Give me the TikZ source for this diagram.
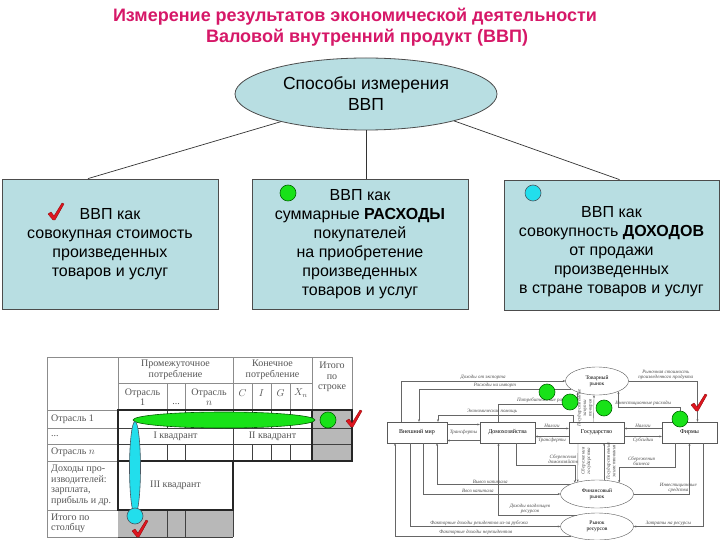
\documentclass[tikz,border=0pt]{standalone}
\usepackage{fontspec}
\setmainfont{Liberation Sans}
\newfontfamily\tabfont{Liberation Serif}
\usetikzlibrary{calc,shapes.geometric,arrows.meta}
\definecolor{titlered}{RGB}{214,24,104}
\definecolor{boxfill}{RGB}{184,222,226}
\definecolor{tickred}{RGB}{222,22,32}
\definecolor{dotgreen}{RGB}{24,226,24}
\definecolor{dotcyan}{RGB}{34,222,236}
\definecolor{tabgray}{RGB}{85,85,85}
\def\redtick(#1){\fill[tickred,draw=red!55!black,line width=0.3pt] ($(#1)+(-7,0)$) -- ++(3,-2) -- ++(3,4) -- ++(8,-13) -- ++(2,1) -- ++(-9,16) -- ++(-2,0) -- cycle;}
\tikzset{
  title/.style={font=\bfseries\fontsize{18}{21}\selectfont, text=titlered},
  method/.style={draw=black!70, line width=0.8pt, fill=boxfill, align=center, font=\fontsize{16}{19}\selectfont},
  link/.style={draw=black!80, line width=0.7pt},
  dot/.style={circle, minimum size=16, inner sep=0pt, line width=0.6pt},
  thinrule/.style={draw=black!45, line width=0.4pt},
  midrule/.style={draw=black!75, line width=0.6pt},
  thickrule/.style={draw=black!85, line width=1.4pt},
  tabtext/.style={font=\tabfont\fontsize{10}{10.5}\selectfont, text=tabgray, align=center, inner sep=1pt},
  fbox/.style={draw=black!65, line width=0.4pt, fill=white, minimum height=21, font=\tabfont\fontsize{6}{7}\selectfont},
  market/.style={ellipse, draw=black!65, line width=0.4pt, fill=white, inner sep=0pt, align=center, font=\tabfont\fontsize{5.5}{6}\selectfont},
  flow/.style={draw=black!60, line width=0.35pt, -{Stealth[length=2.5pt,width=2pt]}},
  flbl/.style={font=\tabfont\itshape\fontsize{5}{5.5}\selectfont, text=black!70, inner sep=1pt, align=center}
}
\begin{document}
\begin{tikzpicture}[x=1pt,y=-1pt]
			\useasboundingbox[fill=white] (0,0) rectangle (720,540);
			
			% title
			\node[title] (title1) at (355,17) {Измерение результатов экономической деятельности};
			\node[title] (title2) at (367,38) {Валовой внутренний продукт (ВВП)};
			
			% methods
			\node[ellipse, draw=black!70, line width=0.8pt, fill=boxfill, minimum width=262, minimum height=72, align=center, font=\fontsize{17.5}{21}\selectfont] (ways) at (366,94) {Способы измерения\\ВВП};
			\node[method, minimum width=216, minimum height=130] (sumval) at (110,244) {ВВП как\\совокупная стоимость\\произведенных\\товаров и услуг};
			\node[method, minimum width=216, minimum height=130] (spend) at (360,244) {ВВП как\\суммарные \textbf{РАСХОДЫ}\\покупателей\\на приобретение\\произведенных\\товаров и услуг};
			\node[method, minimum width=215, minimum height=130] (income) at (611.5,245) {\rule{0pt}{24pt}ВВП как\\совокупность \textbf{ДОХОДОВ}\\от продажи\\произведенных\\в стране товаров и услуг};
			\draw[link] (ways.198) -- ([xshift=-22]sumval.north);
			\draw[link] (ways.south) -- (ways.south |- spend.north);
			\draw[link] (ways.343) -- ([xshift=8]income.north);
			\redtick(55,214)
			\node[dot, draw=green!40!black, fill=dotgreen] (spenddot) at (288,193) {};
			\node[dot, draw=cyan!30!black, fill=dotcyan] (incomedot) at (533,193) {};
			
			% input-output table
			\fill[black!28] (312,410) rectangle (352,461);
			\fill[black!28] (118,510) rectangle (233,537);
			\draw[thinrule] (47,357) -- (352,357) -- (352,410);
			\draw[thinrule] (47,357) -- (47,537) -- (118,537);
			\draw[thinrule] (118,357) -- (118,410) (233,357) -- (233,410) (312,357) -- (312,410);
			\draw[thinrule] (118,383) -- (312,383);
			\foreach \x in {167,185,252,271,290} \draw[thinrule] (\x,383) -- (\x,410);
			\foreach \y in {410,428,444,461,510} \draw[thinrule] (47,\y) -- (118,\y);
			\foreach \x in {167,185,233,252,271,290} \draw[midrule] (\x,410) -- (\x,428) (\x,444) -- (\x,461);
			\draw[midrule] (233,428) -- (233,444);
			\draw[midrule] (118,428) -- (352,428) (118,444) -- (352,444);
			\draw[midrule] (167,510) -- (167,537) (185,510) -- (185,537) (233,510) -- (233,537) (118,537) -- (233,537);
			\draw[thickrule] (118,410) rectangle (352,461);
			\draw[thickrule] (312,410) -- (312,461);
			\draw[thickrule] (118,461) rectangle (233,510);
			\node[tabtext] (hdrInter) at (175.5,370) {Промежуточное\\потребление};
			\node[tabtext] (hdrFinal) at (272.5,370) {Конечное\\потребление};
			\node[tabtext] (hdrTotal) at (332,377) {Итого\\по\\строке};
			\node[tabtext] (hdrBr1) at (142.5,397) {Отрасль\\1};
			\node[tabtext] (hdrDots) at (176,404) {...};
			\node[tabtext] (hdrBrN) at (209,397) {Отрасль\\$n$};
			\node[tabtext] (hdrC) at (242.5,393) {$C$};
			\node[tabtext] (hdrI) at (261.5,393) {$I$};
			\node[tabtext] (hdrG) at (280.5,393) {$G$};
			\node[tabtext] (hdrX) at (301,393) {$X_n$};
			\node[tabtext, anchor=west] (rowBr1) at (50,419) {Отрасль 1};
			\node[tabtext, anchor=west] (rowDots) at (50,436) {...};
			\node[tabtext, anchor=west] (rowBrN) at (50,452.5) {Отрасль $n$};
			\node[tabtext, anchor=west, align=left] (rowInc) at (50,485.5) {Доходы про-\\изводителей:\\зарплата,\\прибыль и др.};
			\node[tabtext, anchor=west, align=left] (rowTot) at (50,523.5) {Итого по\\столбцу};
			\node[tabtext] (quadI) at (175.5,436) {I квадрант};
			\node[tabtext] (quadII) at (272.5,436) {II квадрант};
			\node[tabtext] (quadIII) at (175.5,485.5) {III квадрант};
			\node[ellipse, draw=green!35!black, line width=0.6pt, fill=dotgreen, minimum width=182, minimum height=16, inner sep=0pt] (rowoval) at (224,420) {};
			\node[ellipse, draw=cyan!30!black, line width=0.6pt, fill=dotcyan, minimum width=11, minimum height=93, inner sep=0pt] (coloval) at (135,468) {};
			\node[dot, draw=green!40!black, fill=dotgreen] (rowdot) at (328,420) {};
			\node[dot, draw=cyan!30!black, fill=dotcyan] (coldot) at (135,516) {};
			\redtick(353,421)
			\redtick(139,531)
			
			% circular flow
			\node[fbox, minimum width=60] (world) at (417,432.5) {Внешний мир};
			\node[fbox, minimum width=55] (house) at (507.5,432.5) {Домохозяйства};
			\node[fbox, minimum width=55] (gov) at (596.5,432.5) {Государство};
			\node[fbox, minimum width=55] (firms) at (689.5,432.5) {Фирмы};
			\node[market, minimum width=63, minimum height=28] (goods) at (597,381) {Товарный\\рынок};
			\node[market, minimum width=73, minimum height=28] (finmkt) at (597,494) {Финансовый\\рынок};
			\node[market, minimum width=73, minimum height=27] (resmkt) at (597,526.5) {Рынок\\ресурсов};
			
			\draw[flow] ([xshift=-16]world.north) |- (goods.west) node[flbl, pos=0.75, above] (lExport) {Доходы от экспорта};
			\draw[flow] (goods.197) -| ([xshift=2]world.north) node[flbl, pos=0.25, above] (lImport) {Расходы на импорт};
			\draw[flow] ([xshift=-9]house.north) -- ++(0,-18) -| (goods.210) node[flbl, pos=0.3, above] (lConsume) {Потребительские расходы};
			\draw[flow] ([xshift=-23]gov.north) -- ++(0,-7) -| ([xshift=21]world.north) node[flbl, pos=0.3, above] (lAid) {Экономическая помощь};
			\draw[flow] ([yshift=8]world.east) -- ([yshift=8]house.west);
			\draw[flow] ([yshift=-8]house.west) -- ([yshift=-8]world.east);
			\node[flbl] (lTransW) at ($(world.east)!0.5!(house.west)$) {Трансферты};
			\draw[flow] ([yshift=4]house.east) -- ([yshift=4]gov.west) node[flbl, midway, above] (lTaxH) {Налоги};
			\draw[flow] ([yshift=-4]gov.west) -- ([yshift=-4]house.east) node[flbl, midway, below] (lTransH) {Трансферты};
			\draw[flow] ([yshift=4]firms.west) -- ([yshift=4]gov.east) node[flbl, midway, above] (lTaxF) {Налоги};
			\draw[flow] ([yshift=-4]gov.east) -- ([yshift=-4]firms.west) node[flbl, midway, below] (lSubs) {Субсидии};
			\draw[flow] ([xshift=-3]gov.north) -- ([xshift=-3]goods.south);
			\node[flbl, rotate=90] (lPurch) at (585,408) {Государственные\\закупки\\товаров};
			\draw[flow] (goods.east) -| ([xshift=8]firms.north) node[flbl, pos=0.27, above] (lValue) {Рыночная стоимость\\произведенного продукта};
			\draw[flow] ([xshift=-9]firms.north) -- ++(0,-15) -| (goods.334) node[flbl, pos=0.3, above] (lInvest) {Инвестиционные расходы};
			\draw[flow] ([xshift=9]house.south) -- ++(0,22) -| (finmkt.153) node[flbl, pos=0.4, above] (lSaveH) {Сбережения\\домохозяйств};
			\draw[flow] ([xshift=-18.5]gov.south) -- (finmkt.148);
			\node[flbl, rotate=90] (lSaveG) at (586,461) {Сбережения\\государства};
			\draw[flow] (finmkt.63) -- (gov.south -| finmkt.63);
			\node[flbl, rotate=90] (lBorrow) at (611,461) {Государственные\\заимствования};
			\draw[flow] ([xshift=-14.5]firms.south) -- ++(0,24) -| (finmkt.27) node[flbl, pos=0.3, above] (lSaveF) {Сбережения\\бизнеса};
			\draw[flow] (finmkt.east) -| (firms.south) node[flbl, pos=0.4, above] (lFunds) {Инвестиционные\\средства};
			\draw[flow] (finmkt.160) -| ([xshift=20]world.south) node[flbl, pos=0.3, above] (lOut) {Вывоз капитала};
			\draw[flow] ([xshift=6]world.south) |- (finmkt.west) node[flbl, pos=0.7, above] (lIn) {Ввоз капитала};
			\draw[flow] (resmkt.150) -| ([xshift=-9]house.south) node[flbl, pos=0.3, above] (lOwners) {Доходы владельцев\\ресурсов};
			\draw[flow] ([xshift=-7]world.south) |- (resmkt.west) node[flbl, pos=0.73, above] (lResid) {Факторные доходы резидентов из-за рубежа};
			\draw[flow] (resmkt.200) -| ([xshift=-22]world.south) node[flbl, pos=0.27, above] (lNonres) {Факторные доходы нерезидентов};
			\draw[flow] ([xshift=13.5]firms.south) |- (resmkt.east) node[flbl, pos=0.75, above] (lCost) {Затраты на ресурсы};
			
			\node[dot, draw=green!40!black, fill=dotgreen] (fdot1) at (547,392) {};
			\node[dot, draw=green!40!black, fill=dotgreen] (fdot2) at (570,402) {};
			\node[dot, draw=green!40!black, fill=dotgreen] (fdot3) at (604,408) {};
			\node[dot, draw=green!40!black, fill=dotgreen] (fdot4) at (680,419) {};
			\redtick(698,405)
\end{tikzpicture}
\end{document}
